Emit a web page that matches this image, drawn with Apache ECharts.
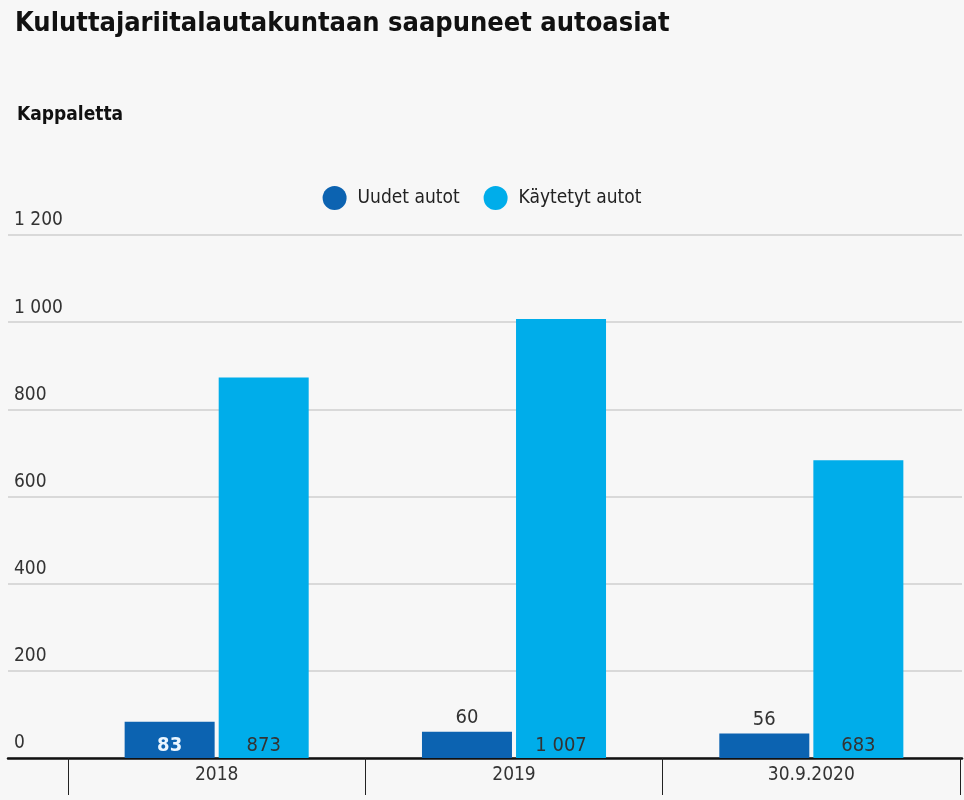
<!DOCTYPE html>
<html><head><meta charset="utf-8">
<script src="https://cdn.jsdelivr.net/npm/echarts@6/dist/echarts.min.js"></script>
<style>html,body{margin:0;padding:0;background:#f7f7f7}#c{width:964px;height:800px}</style>
</head><body><div id="c"></div>
<script>
const categories = ['2018', '2019', '30.9.2020'];
const uudet = [83, 60, 56];
const kaytetyt = [873, 1007, 683];
const yTicks = [0, 200, 400, 600, 800, 1000, 1200];

const FONT = "'Liberation Sans Narrow', 'DejaVu Sans Condensed', 'Roboto Condensed', sans-serif";
const fmt = v => String(v).replace(/\B(?=(\d{3})+(?!\d))/g, ' ');
const DARK = '#0c63b1', LIGHT = '#00adea';

const chart = echarts.init(document.getElementById('c'));
chart.setOption({
  backgroundColor: '#f7f7f7',
  textStyle: { fontFamily: FONT },
  title: [
    { text: 'Kuluttajariitalautakuntaan saapuneet autoasiat', left: 10, top: 5,
      textStyle: { fontFamily: FONT, fontSize: 27, fontWeight: 'bold', color: '#111' } },
    { text: 'Kappaletta', left: 12, top: 101,
      textStyle: { fontFamily: FONT, fontSize: 19, fontWeight: 'bold', color: '#111' } }
  ],
  legend: {
    top: 181, left: 'center', icon: 'circle', itemWidth: 24, itemHeight: 24, itemGap: 24,
    textStyle: { fontFamily: FONT, fontSize: 19, color: '#222', padding: [0, 0, 0, 6] },
    data: ['Uudet autot', 'Käytetyt autot']
  },
  grid: [
    { left: 8, right: 2, top: 235, bottom: 42 },
    { left: 68, right: 4, top: 235, bottom: 42 }
  ],
  xAxis: [
    { gridIndex: 0, type: 'category', data: [''], axisLabel: { show: false }, axisTick: { show: false },
      axisLine: { show: true, lineStyle: { color: '#111', width: 2.5 } } },
    { gridIndex: 1, type: 'category', data: categories,
      axisLine: { show: false },
      axisTick: { show: true, length: 37, interval: 0, lineStyle: { color: '#222', width: 1 } },
      axisLabel: { fontFamily: FONT, fontSize: 19, color: '#333', margin: 8 } }
  ],
  yAxis: [
    { gridIndex: 0, type: 'value', min: 0, max: yTicks[yTicks.length - 1], interval: yTicks[1] - yTicks[0],
      axisLine: { show: false }, axisTick: { show: false },
      splitLine: { show: true, lineStyle: { color: '#cfcfcf', width: 1.5 } },
      axisLabel: { inside: true, margin: 6, verticalAlign: 'bottom', padding: [0, 0, 5, 0],
        fontFamily: FONT, fontSize: 19, color: '#333', formatter: v => fmt(v) } },
    { gridIndex: 1, type: 'value', min: 0, max: yTicks[yTicks.length - 1], interval: yTicks[1] - yTicks[0],
      show: false, splitLine: { show: false } }
  ],
  series: [
    { name: 'Uudet autot', type: 'bar', xAxisIndex: 1, yAxisIndex: 1, barWidth: 90, barGap: '4.5%',
      itemStyle: { color: DARK },
      data: uudet.map(v => ({
        value: v,
        label: v > 70
          ? { show: true, position: 'insideBottom', distance: 2, color: '#eaf6ff', fontWeight: 'bold' }
          : { show: true, position: 'top', distance: 4, color: '#333' }
      })),
      label: { fontFamily: FONT, fontSize: 20, formatter: p => fmt(p.value) } },
    { name: 'Käytetyt autot', type: 'bar', xAxisIndex: 1, yAxisIndex: 1, barWidth: 90,
      itemStyle: { color: LIGHT },
      data: kaytetyt,
      label: { show: true, position: 'insideBottom', distance: 2, color: '#333',
        fontFamily: FONT, fontSize: 20, formatter: p => fmt(p.value) } }
  ]
});
</script></body></html>
